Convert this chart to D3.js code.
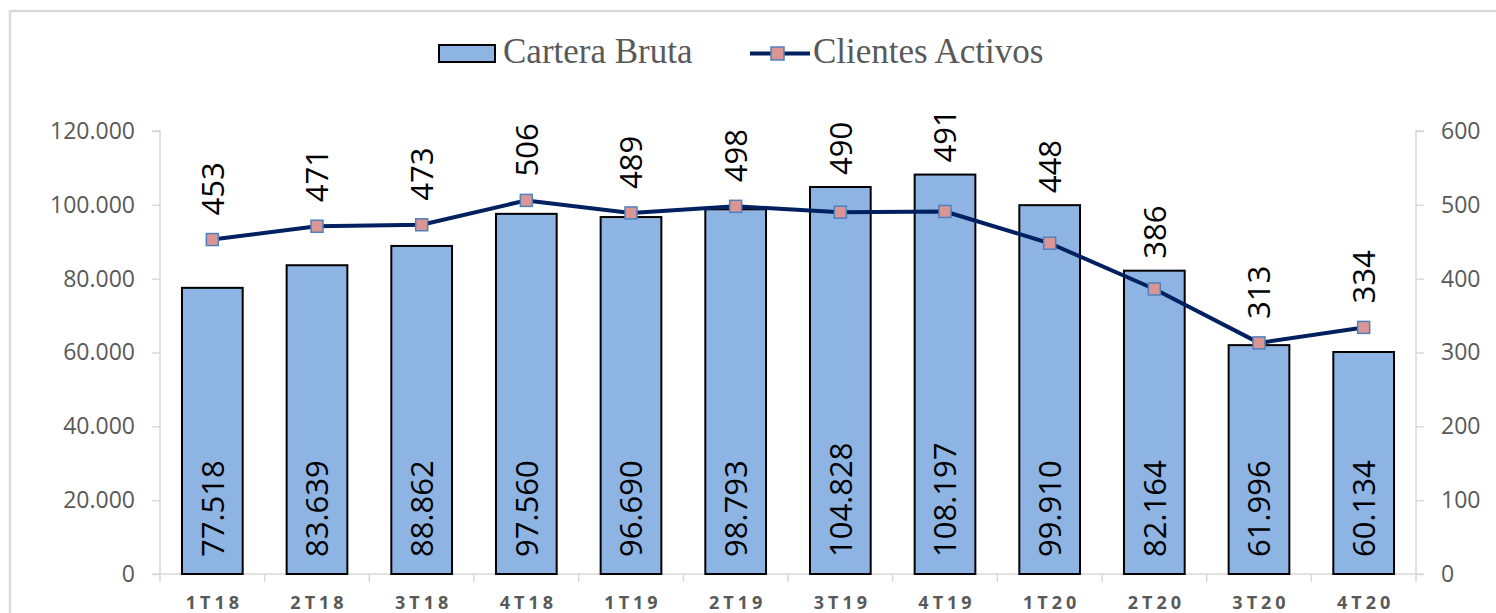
<!DOCTYPE html>
<html><head><meta charset="utf-8">
<script src="https://cdn.jsdelivr.net/npm/d3@7"></script>
<style>body{margin:0;background:#fff;}svg{display:block;}</style>
</head><body><svg id="c" width="1496" height="613"></svg>
<script>
const categories = ["1T18","2T18","3T18","4T18","1T19","2T19","3T19","4T19","1T20","2T20","3T20","4T20"];
const carteraBruta = [77518,83639,88862,97560,96690,98793,104828,108197,99910,82164,61996,60134];
const clientesActivos = [453,471,473,506,489,498,490,491,448,386,313,334];
const leftTicks = [0,20000,40000,60000,80000,100000,120000];
const rightTicks = [0,100,200,300,400,500,600];
const seriesNames = ["Cartera Bruta","Clientes Activos"];

const svg = d3.select("#c");
const fmt = v => d3.format(",")(v).replace(/,/g, ".");
const sans = "'Open Sans', sans-serif";

// chart frame
svg.append("rect").attr("x",10).attr("y",11).attr("width",1500).attr("height",620)
  .attr("fill","#fff").attr("stroke","#d9d9d9").attr("stroke-width",2.5);

const x0 = 160, x1 = 1416, yTop = 131, yBot = 574;
const x = d3.scaleBand().domain(categories).range([x0,x1]).paddingInner(0.42).paddingOuter(0.21);
const xb = d3.scaleBand().domain(categories).range([x0,x1]);
const yL = d3.scaleLinear().domain([0,120000]).range([yBot,yTop]);
const yR = d3.scaleLinear().domain([0,600]).range([yBot,yTop]);

// left axis
const gL = svg.append("g").attr("transform",`translate(${x0},0)`)
  .call(d3.axisLeft(yL).tickValues(leftTicks).tickFormat(fmt).tickSize(8).tickPadding(17));
gL.selectAll("path,line").attr("stroke","#d9d9d9").attr("stroke-width",1.5);
gL.select(".domain").attr("d",`M-8,${yTop}H0V${yBot}`);
gL.selectAll("text").attr("font-family",sans).attr("font-size",23).attr("fill","#595959");

// right axis
const gR = svg.append("g").attr("transform",`translate(${x1},0)`)
  .call(d3.axisRight(yR).tickValues(rightTicks).tickSize(8).tickPadding(17));
gR.selectAll("path,line").attr("stroke","#d9d9d9").attr("stroke-width",1.5);
gR.select(".domain").attr("d",`M8,${yTop}H0V${yBot}`);
gR.selectAll("text").attr("font-family",sans).attr("font-size",23).attr("fill","#595959");

// bottom axis
const gB = svg.append("g").attr("transform",`translate(0,${yBot})`)
  .call(d3.axisBottom(xb).tickSize(0).tickPadding(0));
gB.select(".domain").attr("d",`M${x0-8},0H${x1+8}`).attr("stroke","#d9d9d9").attr("stroke-width",1.5);
gB.selectAll("text").remove();
svg.append("g").selectAll("line").data(d3.range(categories.length+1)).join("line")
  .attr("x1",i=>x0+i*xb.step()).attr("x2",i=>x0+i*xb.step())
  .attr("y1",yBot).attr("y2",yBot+8).attr("stroke","#d9d9d9").attr("stroke-width",1.5);
svg.append("g").selectAll("text").data(categories).join("text")
  .attr("x",d=>xb(d)+xb.bandwidth()/2+2).attr("y",609)
  .attr("text-anchor","middle").attr("font-family",sans).attr("font-weight","bold")
  .attr("font-size",18).attr("letter-spacing","4px").attr("fill","#595959").text(d=>d);

// bars
svg.append("g").selectAll("rect").data(carteraBruta).join("rect")
  .attr("x",(d,i)=>x(categories[i])).attr("width",x.bandwidth())
  .attr("y",d=>yL(d)).attr("height",d=>yBot-yL(d))
  .attr("fill","#8db4e2").attr("stroke","#000").attr("stroke-width",2);

// bar labels
svg.append("g").selectAll("text").data(carteraBruta).join("text")
  .attr("transform",(d,i)=>`translate(${xb(categories[i])+xb.bandwidth()/2},${yBot-17}) rotate(-90)`)
  .attr("dy","0.36em").attr("text-anchor","start")
  .attr("font-family",sans).attr("font-size",31).attr("fill","#000").text(d=>fmt(d));

// line
const cx = i => xb(categories[i])+xb.bandwidth()/2;
svg.append("path").datum(clientesActivos)
  .attr("d",d3.line().x((d,i)=>cx(i)).y(d=>yR(d)))
  .attr("fill","none").attr("stroke","#002060").attr("stroke-width",4).attr("stroke-linejoin","round");
svg.append("g").selectAll("rect").data(clientesActivos).join("rect")
  .attr("x",(d,i)=>cx(i)-6).attr("y",d=>yR(d)-6).attr("width",12).attr("height",12)
  .attr("fill","#d99694").attr("stroke","#4f81bd").attr("stroke-width",1.5);

// line labels
svg.append("g").selectAll("text").data(clientesActivos).join("text")
  .attr("transform",(d,i)=>{
    const yy = Math.min(yR(d)-24, yL(carteraBruta[i])-12);
    return `translate(${cx(i)},${yy}) rotate(-90)`;})
  .attr("dy","0.36em").attr("text-anchor","start")
  .attr("font-family",sans).attr("font-size",31).attr("fill","#000").text(d=>d);

// legend
const lg = svg.append("g");
lg.append("rect").attr("x",439).attr("y",45).attr("width",56).attr("height",17)
  .attr("fill","#8db4e2").attr("stroke","#000").attr("stroke-width",2);
lg.append("text").attr("x",503).attr("y",63).attr("font-family","'Liberation Serif','Times New Roman',serif")
  .attr("font-size",35).attr("fill","#595959").text(seriesNames[0]);
lg.append("line").attr("x1",750).attr("x2",810).attr("y1",53.5).attr("y2",53.5)
  .attr("stroke","#002060").attr("stroke-width",4);
lg.append("rect").attr("x",771).attr("y",47).attr("width",13).attr("height",13)
  .attr("fill","#d99694").attr("stroke","#4f81bd").attr("stroke-width",1.5);
lg.append("text").attr("x",813).attr("y",63).attr("font-family","'Liberation Serif','Times New Roman',serif")
  .attr("font-size",35).attr("fill","#595959").text(seriesNames[1]);
</script></body></html>
